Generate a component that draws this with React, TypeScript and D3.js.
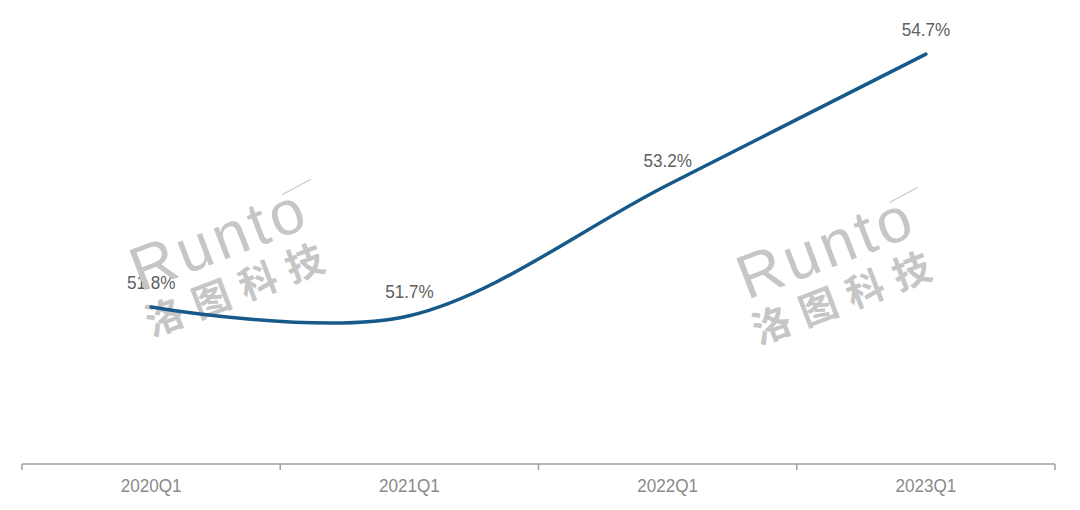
import React from "react";
import * as d3 from "d3";

const categories = ["2020Q1", "2021Q1", "2022Q1", "2023Q1"];
const values = [51.8, 51.7, 53.2, 54.7];
const yDomain = [50, 55];

const W = 1080;
const H = 510;

export default function App() {
  const x = d3.scaleBand<string>().domain(categories).range([22, 1055]);
  const y = d3.scaleLinear().domain(yDomain).range([464, 28]);
  const cx = (c: string) => (x(c) as number) + x.bandwidth() / 2;
  const pts: [number, number][] = categories.map((c, i) => [cx(c), y(values[i])]);
  const line = d3.line().curve(d3.curveCardinal.tension(0))(pts) as string;
  const ticks = [...categories.map((c) => x(c) as number), 1055];

  const watermark = (tx: number, ty: number, key: string) => (
    <g key={key} transform={`translate(${tx},${ty}) rotate(-21)`} fill="#c6c6c6" fontFamily="Liberation Sans, Arial, sans-serif">
      <text x={0} y={0} fontSize={62} letterSpacing={4}>Runto</text>
      <line x1={168} y1={-40} x2={200} y2={-44} stroke="#c6c6c6" strokeWidth={1} />
      <text x={-5} y={46} fontSize={38} fontWeight="bold" letterSpacing={12} fontFamily="Noto Sans CJK SC">洛图科技</text>
    </g>
  );

  return (
    <svg width={W} height={H} style={{ position: "absolute", left: 0, top: 0 }}>
      <rect width={W} height={H} fill="#fff" />
      <line x1={22} x2={1055} y1={464} y2={464} stroke="#a0a0a0" strokeWidth={1.5} />
      {ticks.map((t, i) => (
        <line key={i} x1={t} x2={t} y1={464} y2={470} stroke="#a0a0a0" strokeWidth={1.5} />
      ))}
      {categories.map((c) => (
        <text key={c} transform={`translate(${cx(c)},492) scale(0.9,1)`} textAnchor="middle" fontSize={19} fill="#8a8a8a" fontFamily="Liberation Sans, Arial, sans-serif">{c}</text>
      ))}
      {categories.map((c, i) => (
        <text key={c} transform={`translate(${cx(c)},${y(values[i]) - 18}) scale(0.9,1)`} textAnchor="middle" fontSize={19} fill="#5f5f5f" fontFamily="Liberation Sans, Arial, sans-serif">{values[i].toFixed(1) + "%"}</text>
      ))}
      {watermark(140, 292, "w1")}
      {watermark(747, 300, "w2")}
      <path d={line} fill="none" stroke="#175a8a" strokeWidth={3.5} strokeLinecap="round" />
    </svg>
  );
}
